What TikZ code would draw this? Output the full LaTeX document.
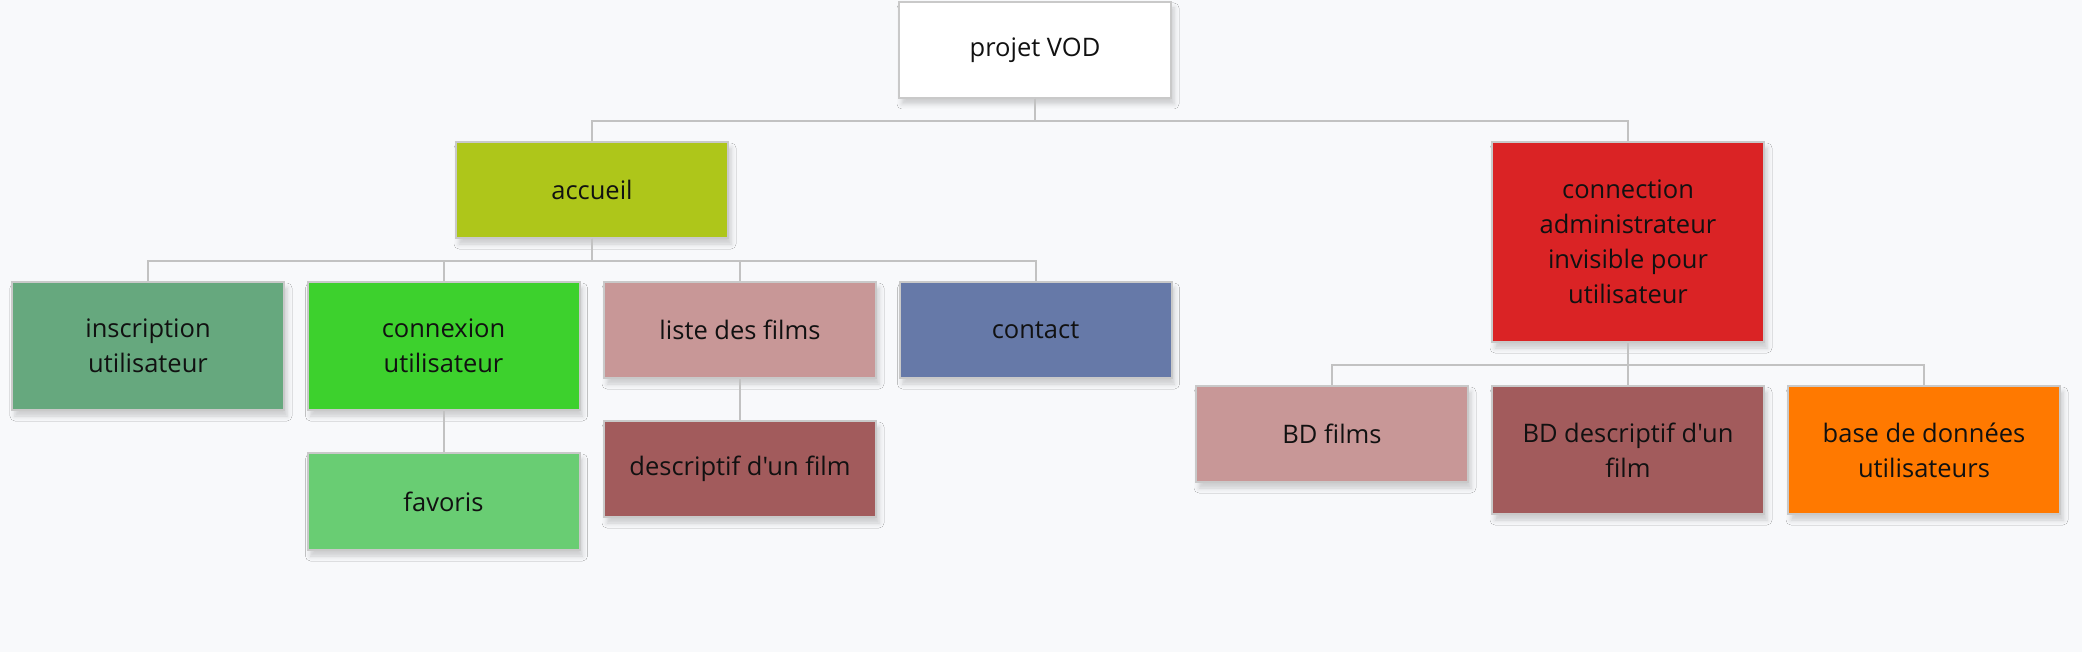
\documentclass[tikz,border=0pt]{standalone}
\usepackage{fontspec}
\setmainfont{Open Sans}[Ligatures=TeXOff]
\usetikzlibrary{shadows.blur}
\definecolor{bg}{HTML}{F8F9FB}
\definecolor{bordergray}{HTML}{C9C9C9}
\definecolor{linegray}{HTML}{C2C2C2}
\definecolor{cAccueil}{HTML}{AEC61A}
\definecolor{cInscr}{HTML}{66A87E}
\definecolor{cConnex}{HTML}{3DD12D}
\definecolor{cListe}{HTML}{C89797}
\definecolor{cContact}{HTML}{6679A8}
\definecolor{cFav}{HTML}{69CD73}
\definecolor{cDesc}{HTML}{A25B5C}
\definecolor{cAdmin}{HTML}{DA2325}
\definecolor{cBase}{HTML}{FF7900}
\definecolor{txt}{HTML}{111111}
\tikzset{
  box/.style={draw=bordergray, line width=2pt, rectangle, minimum width=272pt,
    inner sep=0pt, align=center, text=txt,
    font=\fontsize{25.5}{35}\selectfont,
    blur shadow={shadow xshift=3pt, shadow yshift=-6pt, shadow blur radius=5pt, shadow opacity=18}},
  link/.style={draw=linegray, line width=2pt}
}
\begin{document}
\begin{tikzpicture}[x=1pt,y=1pt]
\fill[bg] (0,0) rectangle (2082,-652);
\useasboundingbox (0,0) rectangle (2082,-652);
% nodes
\node[box, fill=white, minimum height=96pt] (root) at (1035,-50) {projet VOD};
\node[box, fill=cAccueil, minimum height=96pt] (accueil) at (592,-190) {accueil};
\node[box, fill=cAdmin, minimum height=200pt] (admin) at (1628,-242) {connection\\administrateur\\invisible pour\\utilisateur};
\node[box, fill=cInscr, minimum height=128pt] (inscr) at (148,-346) {inscription\\ utilisateur};
\node[box, fill=cConnex, minimum height=128pt] (connex) at (443.5,-346) {connexion\\ utilisateur};
\node[box, fill=cListe, minimum height=96pt] (liste) at (740,-330) {liste des films};
\node[box, fill=cContact, minimum height=96pt] (contact) at (1035.5,-330) {contact};
\node[box, fill=cFav, minimum height=97pt] (fav) at (443.5,-501.5) {favoris};
\node[box, fill=cDesc, minimum height=96pt] (desc) at (740,-469) {descriptif d'un film};
\node[box, fill=cListe, minimum height=96pt] (bdfilms) at (1332,-434) {BD films};
\node[box, fill=cDesc, minimum height=128pt] (bddesc) at (1628,-450) {BD descriptif d'un\\film};
\node[box, fill=cBase, minimum height=128pt] (base) at (1924,-450) {base de données\\utilisateurs};
% connectors
\draw[link] (root.south) -- ++(0,-22) -| (accueil.north);
\draw[link] (root.south) -- ++(0,-22) -| (admin.north);
\draw[link] (accueil.south) -- ++(0,-22) -| (inscr.north);
\draw[link] (accueil.south) -- ++(0,-22) -| (connex.north);
\draw[link] (accueil.south) -- ++(0,-22) -| (liste.north);
\draw[link] (accueil.south) -- ++(0,-22) -| (contact.north);
\draw[link] (connex.south) -- (fav.north);
\draw[link] (liste.south) -- (desc.north);
\draw[link] (admin.south) -- ++(0,-22) -| (bdfilms.north);
\draw[link] (admin.south) -- (bddesc.north);
\draw[link] (admin.south) -- ++(0,-22) -| (base.north);
\end{tikzpicture}
\end{document}
